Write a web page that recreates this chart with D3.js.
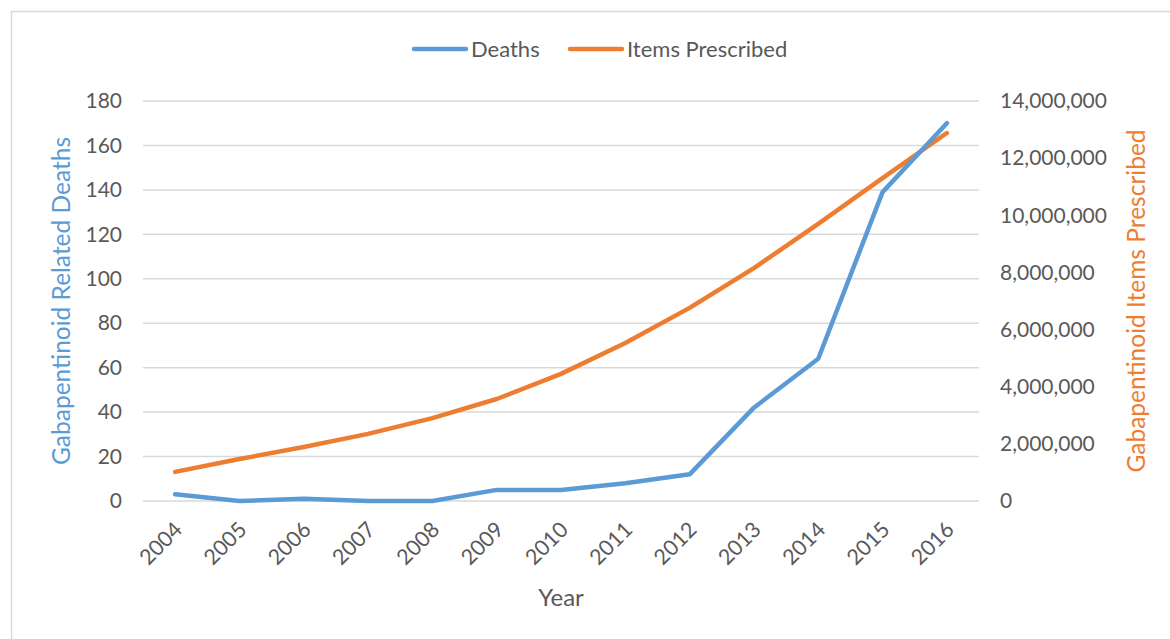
<!DOCTYPE html>
<html>
<head>
<meta charset="utf-8">
<script src="https://cdn.jsdelivr.net/npm/d3@7/dist/d3.min.js"></script>
<style>
  html, body { margin: 0; padding: 0; background: #fff; }
  svg { display: block; }
  text { font-family: Lato, "Open Sans", sans-serif; fill: #595959; }
</style>
</head>
<body>
<svg id="chart" width="1170" height="639"></svg>
<script>
// Gabapentinoid related deaths and items prescribed, 2004–2016
const years = ["2004","2005","2006","2007","2008","2009","2010","2011","2012","2013","2014","2015","2016"];
const deaths = [3, 0, 1, 0, 0, 5, 5, 8, 12, 42, 64, 139, 170];
const itemsPrescribed = [1020000, 1470000, 1890000, 2350000, 2900000, 3570000, 4450000, 5530000, 6760000, 8150000, 9700000, 11300000, 12880000];
const leftTicks = [0, 20, 40, 60, 80, 100, 120, 140, 160, 180];
const rightTicks = [0, 2000000, 4000000, 6000000, 8000000, 10000000, 12000000, 14000000];

const BLUE = "#5B9BD5", ORANGE = "#ED7D31";
const TICK_FONT = 21;
const svg = d3.select("#chart");

// chart frame
svg.append("rect")
  .attr("x", 11.5).attr("y", 11.5)
  .attr("width", 1200).attr("height", 700)
  .attr("fill", "none").attr("stroke", "#d9d9d9").attr("stroke-width", 1.5);

const plot = { left: 143, right: 979, top: 101, bottom: 501 };

const x = d3.scalePoint().domain(years)
  .range([plot.left, plot.right]).padding(0.5);
const yL = d3.scaleLinear().domain([0, 180]).range([plot.bottom, plot.top]);
const yR = d3.scaleLinear().domain([0, 14000000]).range([plot.bottom, plot.top]);

// horizontal gridlines
svg.append("g").selectAll("line").data(leftTicks).join("line")
  .attr("x1", plot.left).attr("x2", plot.right)
  .attr("y1", d => yL(d)).attr("y2", d => yL(d))
  .attr("stroke", "#d9d9d9").attr("stroke-width", 1.5);

// left axis
const leftAxis = svg.append("g")
  .attr("transform", `translate(${plot.left},0)`)
  .call(d3.axisLeft(yL).tickValues(leftTicks).tickSize(0).tickPadding(21));
leftAxis.select(".domain").remove();
leftAxis.selectAll("text").attr("font-size", TICK_FONT).style("font-family", "Lato, sans-serif").attr("fill", "#595959");

// right axis
const rightAxis = svg.append("g")
  .attr("transform", `translate(${plot.right},0)`)
  .call(d3.axisRight(yR).tickValues(rightTicks).tickSize(0).tickPadding(21)
    .tickFormat(d3.format(",")));
rightAxis.select(".domain").remove();
rightAxis.selectAll("text").attr("font-size", TICK_FONT).style("font-family", "Lato, sans-serif").attr("fill", "#595959");

// bottom axis with rotated year labels
const bottomAxis = svg.append("g")
  .attr("transform", `translate(0,${plot.bottom})`)
  .call(d3.axisBottom(x).tickSize(0).tickPadding(0));
bottomAxis.select(".domain").remove();
bottomAxis.selectAll("text")
  .attr("font-size", 21.5).style("font-family", "Lato, sans-serif").attr("fill", "#595959")
  .attr("text-anchor", "end")
  .attr("dy", 0)
  .attr("transform", "translate(8,30) rotate(-45)");

// axis titles
svg.append("text")
  .attr("transform", `translate(70,${(plot.top + plot.bottom) / 2}) rotate(-90)`)
  .attr("text-anchor", "middle")
  .attr("font-size", 24.5).style("fill", BLUE)
  .text("Gabapentinoid Related Deaths");

svg.append("text")
  .attr("transform", `translate(1145,${(plot.top + plot.bottom) / 2}) rotate(-90)`)
  .attr("text-anchor", "middle")
  .attr("font-size", 24.5).style("fill", ORANGE)
  .text("Gabapentinoid Items Prescribed");

svg.append("text")
  .attr("x", (plot.left + plot.right) / 2).attr("y", 606)
  .attr("text-anchor", "middle")
  .attr("font-size", 24)
  .text("Year");

// series lines
const lineL = d3.line().x((d, i) => x(years[i])).y(d => yL(d));
const lineR = d3.line().x((d, i) => x(years[i])).y(d => yR(d));

svg.append("path").datum(itemsPrescribed)
  .attr("d", lineR).attr("fill", "none")
  .attr("stroke", ORANGE).attr("stroke-width", 4.5)
  .attr("stroke-linecap", "round").attr("stroke-linejoin", "round");

svg.append("path").datum(deaths)
  .attr("d", lineL).attr("fill", "none")
  .attr("stroke", BLUE).attr("stroke-width", 4.5)
  .attr("stroke-linecap", "round").attr("stroke-linejoin", "round");

// legend
const legendItems = [
  { name: "Deaths", color: BLUE, x: 414 },
  { name: "Items Prescribed", color: ORANGE, x: 570 }
];
const legend = svg.append("g").selectAll("g").data(legendItems).join("g")
  .attr("transform", d => `translate(${d.x},49)`);
legend.append("line")
  .attr("x1", 0).attr("x2", 52).attr("y1", 0).attr("y2", 0)
  .attr("stroke", d => d.color).attr("stroke-width", 4.5)
  .attr("stroke-linecap", "round");
legend.append("text")
  .attr("x", 57).attr("y", 8)
  .attr("font-size", 22)
  .text(d => d.name);
</script>
</body>
</html>
